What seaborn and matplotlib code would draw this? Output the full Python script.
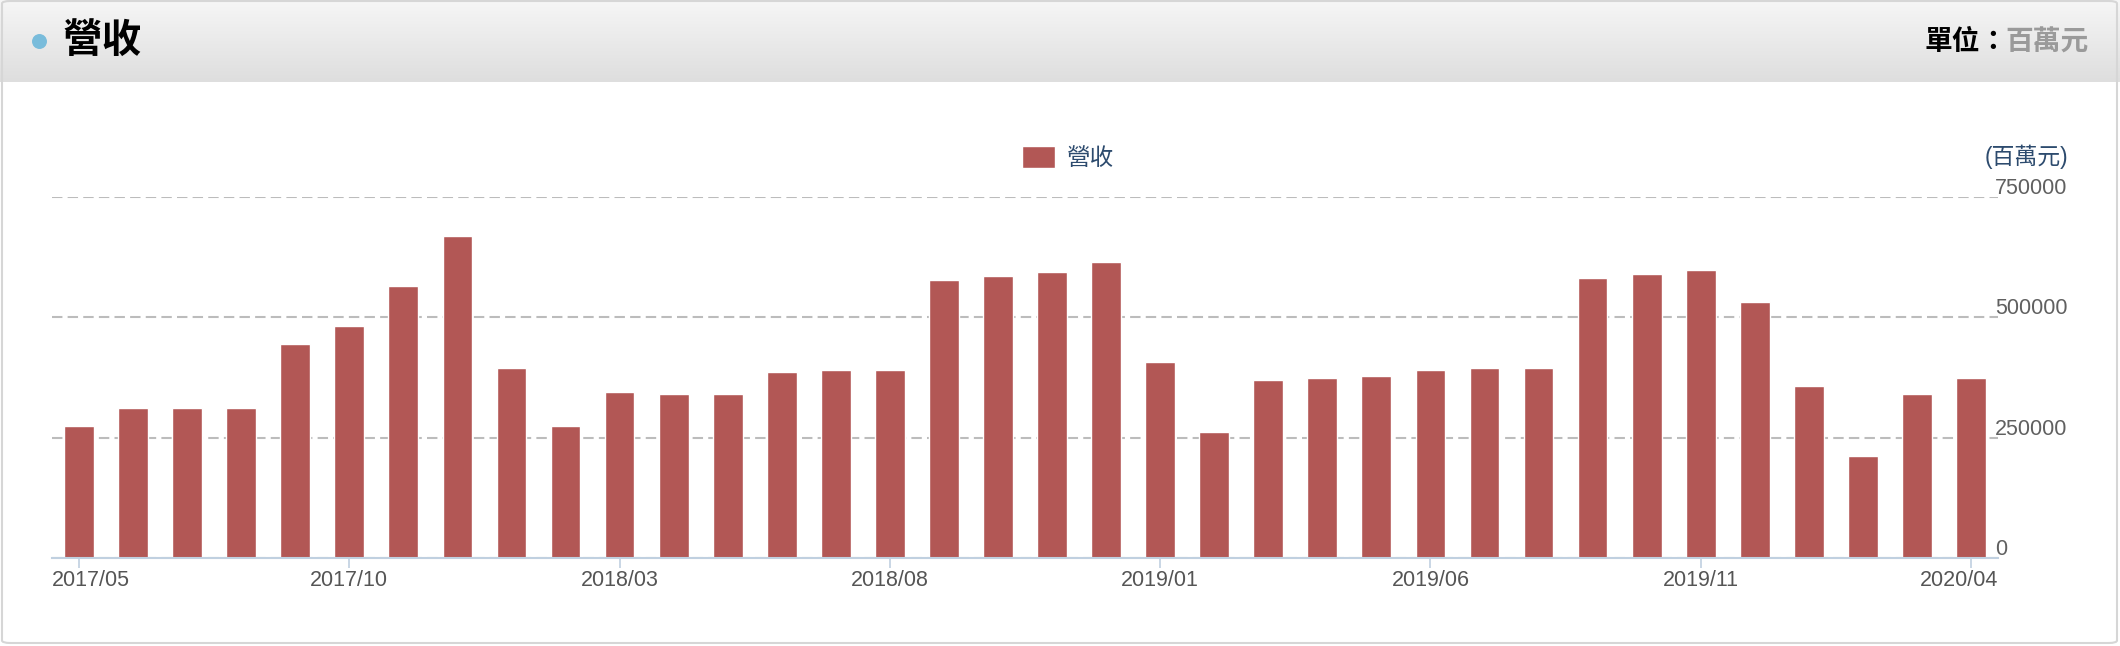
import matplotlib
matplotlib.use('Agg')
import matplotlib.pyplot as plt
import matplotlib.transforms as mtransforms
from matplotlib.colors import LinearSegmentedColormap
from matplotlib.patches import Patch, FancyBboxPatch
import seaborn as sns
import pandas as pd
import numpy as np

# monthly revenue (millions)
months = ['2017/05', '2017/06', '2017/07', '2017/08', '2017/09', '2017/10',
          '2017/11', '2017/12', '2018/01', '2018/02', '2018/03', '2018/04',
          '2018/05', '2018/06', '2018/07', '2018/08', '2018/09', '2018/10',
          '2018/11', '2018/12', '2019/01', '2019/02', '2019/03', '2019/04',
          '2019/05', '2019/06', '2019/07', '2019/08', '2019/09', '2019/10',
          '2019/11', '2019/12', '2020/01', '2020/02', '2020/03', '2020/04']
revenue = [274000, 312000, 312000, 312000, 444000, 482000, 565000, 668000,
           395000, 274000, 345000, 341000, 341000, 386000, 391000, 391000,
           577000, 585000, 594000, 614000, 407000, 262000, 370000, 374000,
           378000, 391000, 395000, 395000, 581000, 590000, 598000, 532000,
           357000, 212000, 341000, 374000]
shown_ticks = ['2017/05', '2017/10', '2018/03', '2018/08',
               '2019/01', '2019/06', '2019/11', '2020/04']
yticks = [0, 250000, 500000, 750000]

df = pd.DataFrame({'month': months, 'revenue': revenue})

bar_color = '#b25755'
label_blue = '#2d4b6e'

sns.set_theme(style='white')
plt.rcParams['font.family'] = ['Liberation Sans', 'Noto Sans CJK TC']

W, H = 2120, 646
fig = plt.figure(figsize=(W / 100, H / 100), dpi=100)
fig.patch.set_facecolor('white')

# header strip with gradient
hdr = fig.add_axes([0, 1 - 82 / H, 1, 82 / H])
grad = np.linspace(0, 1, 100).reshape(-1, 1)
cmap = LinearSegmentedColormap.from_list('hdr', ['#f6f6f6', '#dedede'])
hdr.imshow(grad, aspect='auto', cmap=cmap, extent=[0, 1, 0, 1])
hdr.set_xlim(0, 1)
hdr.set_ylim(0, 1)
hdr.scatter([39 / W], [41 / 82], s=95, color='#79bcdb', zorder=3)
hdr.axis('off')

fig.text(62 / W, 1 - 41 / H, '營收', fontsize=28.5, fontweight='bold',
         va='center', ha='left', color='black')
fig.text(2089 / W, 1 - 43 / H, '百萬元', fontsize=20, fontweight='bold',
         va='center', ha='right', color='#9a9a9a')
fig.text(2008 / W, 1 - 43 / H, '單位：', fontsize=20, fontweight='bold',
         va='center', ha='right', color='black')

# panel border
fig.add_artist(FancyBboxPatch((2 / W, 3 / H), (W - 5) / W, (H - 4) / H,
                              boxstyle='round,pad=0,rounding_size=0.004',
                              transform=fig.transFigure, fill=False,
                              ec='#d6d6d6', lw=1.5, zorder=10))

# main chart
ax = fig.add_axes([52 / W, (H - 558) / H, (1998 - 52) / W, (558 - 197) / H])
sns.barplot(data=df, x='month', y='revenue', color=bar_color, saturation=1,
            width=0.55, ax=ax)
ax.set_xlim(-0.5, len(months) - 0.5)
ax.set_ylim(0, 750000)
ax.set_xlabel('')
ax.set_ylabel('')

ax.set_yticks(yticks)
ax.set_yticklabels([str(v) for v in yticks])
ax.yaxis.tick_right()
ax.tick_params(axis='y', length=0, pad=-2, labelsize=15.5, labelcolor='#606060')

ax.set_xticks([months.index(m) for m in shown_ticks])
ax.set_xticklabels(shown_ticks)
ax.tick_params(axis='x', bottom=True, length=7, width=1.2, color='#c0d0e0',
               labelsize=15.5, labelcolor='#555555', pad=2)

ax.yaxis.grid(True, linestyle=(0, (5, 2.5)), color='#bcbcbc', lw=1.5)
ax.set_axisbelow(True)
for side in ['top', 'left', 'right']:
    ax.spines[side].set_visible(False)
ax.spines['bottom'].set_color('#c0d0e0')
ax.spines['bottom'].set_linewidth(1.5)

# legend
leg = fig.legend(handles=[Patch(facecolor=bar_color, label='營收')],
                 loc='center', bbox_to_anchor=(1068 / W, 1 - 158 / H),
                 frameon=False, fontsize=17, handlelength=1.4,
                 handleheight=1.1, handletextpad=0.5, labelcolor=label_blue)

fig.text(2068 / W, 1 - 157 / H, '(百萬元)', fontsize=16.5, ha='right',
         va='center', color=label_blue)

# nudge labels like the original: y labels sit above gridlines,
# first / last x labels kept inside the plot
up = mtransforms.ScaledTranslation(0, 11 / 100, fig.dpi_scale_trans)
for lbl in ax.get_yticklabels():
    lbl.set_transform(lbl.get_transform() + up)
xlabels = ax.get_xticklabels()
xlabels[0].set_transform(xlabels[0].get_transform() +
                         mtransforms.ScaledTranslation(12 / 100, 0, fig.dpi_scale_trans))
xlabels[-1].set_transform(xlabels[-1].get_transform() +
                          mtransforms.ScaledTranslation(-12 / 100, 0, fig.dpi_scale_trans))

fig.savefig('out.png', dpi=100)
